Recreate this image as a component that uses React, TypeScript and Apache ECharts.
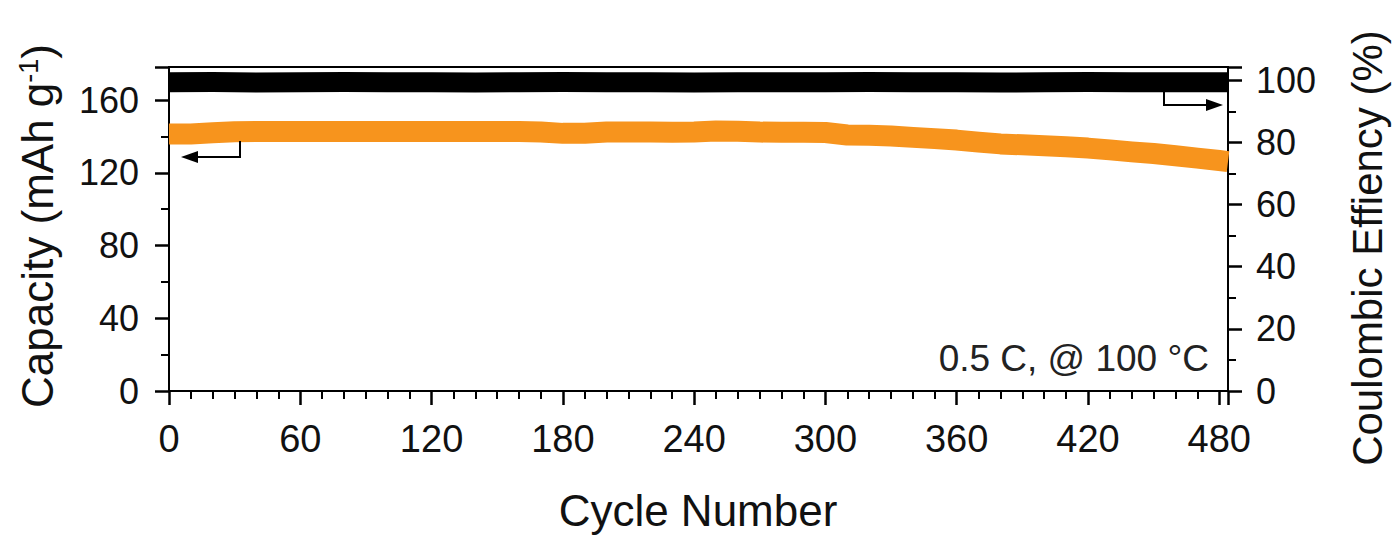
import React, { useEffect, useRef } from "react";
import * as echarts from "echarts";

const capacityCycles = [
  0, 10, 20, 30, 40, 50, 60, 70, 80, 90, 100, 110, 120, 130, 140, 150, 160, 170, 180, 190,
  200, 210, 220, 230, 240, 250, 260, 270, 280, 290, 300, 310, 320, 330, 340, 350, 360, 370,
  380, 390, 400, 410, 420, 430, 440, 450, 460, 470, 480, 484,
];
// Discharge capacity (mAh g-1)
const capacityValues = [
  141.3, 141.4, 142.0, 142.6, 142.7, 142.7, 142.7, 142.7, 142.7, 142.7, 142.7, 142.7, 142.7,
  142.7, 142.7, 142.7, 142.7, 142.4, 141.7, 141.8, 142.5, 142.5, 142.4, 142.3, 142.5, 143.0,
  142.9, 142.4, 142.3, 142.3, 142.2, 140.8, 140.6, 140.3, 139.5, 138.8, 138.0, 136.9, 135.9,
  135.4, 134.9, 134.3, 133.6, 132.6, 131.5, 130.6, 129.4, 128.1, 126.8, 126.2,
];

const ceCycles = [
  0, 20, 40, 60, 80, 100, 120, 140, 160, 180, 200, 220, 240, 260, 280, 300, 320, 340, 360, 380,
  400, 420, 440, 460, 480, 484,
];
// Coulombic efficiency (%)
const ceValues = [
  99.4, 99.5, 99.3, 99.4, 99.5, 99.4, 99.4, 99.3, 99.4, 99.5, 99.4, 99.4, 99.3, 99.4, 99.4,
  99.4, 99.5, 99.4, 99.4, 99.3, 99.4, 99.5, 99.4, 99.4, 99.4, 99.4,
];

const xTitle = "Cycle Number";
const yLeftTitle = "Capacity (mAh g{sup|-1})";
const yRightTitle = "Coulombic Effiency (%)";
const note = "0.5 C, @ 100 °C";

const FONT = "'Liberation Sans', Arial, Helvetica, sans-serif";
const INK = "#111";

export default function App() {
  const ref = useRef<HTMLDivElement>(null);

  useEffect(() => {
    if (!ref.current) return;
    const chart = echarts.init(ref.current, null, { renderer: "svg" });

    const capData = capacityCycles.map((c, i) => [c, capacityValues[i]]);
    const ceData = ceCycles.map((c, i) => [c, ceValues[i]]);

    const axisCommon = {
      axisLine: { show: true, onZero: false, lineStyle: { color: "#000", width: 2 } },
      axisTick: { show: true, inside: false, length: 14, lineStyle: { color: "#000", width: 2.5 } },
      minorTick: { show: true, length: 8, lineStyle: { color: "#000", width: 2 } },
      splitLine: { show: false },
      minorSplitLine: { show: false },
    };

    chart.setOption({
      animation: false,
      backgroundColor: "#fff",
      grid: {
        left: 169,
        right: 172,
        top: 67,
        bottom: 166,
        show: true,
        borderColor: "#000",
        borderWidth: 2,
        backgroundColor: "transparent",
      },
      xAxis: {
        type: "value",
        min: 0,
        max: 484,
        interval: 60,
        ...axisCommon,
        minorTick: { ...axisCommon.minorTick, splitNumber: 6 },
        axisLabel: {
          fontSize: 38,
          fontFamily: FONT,
          color: INK,
          margin: 29,
          showMaxLabel: false,
        },
      },
      yAxis: [
        {
          type: "value",
          position: "left",
          min: 0,
          max: 178.2,
          interval: 40,
          ...axisCommon,
          minorTick: { ...axisCommon.minorTick, splitNumber: 2 },
          axisLabel: {
            fontSize: 36,
            fontFamily: FONT,
            color: INK,
            margin: 30,
            showMaxLabel: false,
          },
        },
        {
          type: "value",
          position: "right",
          min: 0,
          max: 104.3,
          interval: 20,
          ...axisCommon,
          minorTick: { ...axisCommon.minorTick, splitNumber: 2 },
          axisLabel: {
            fontSize: 36,
            fontFamily: FONT,
            color: INK,
            margin: 28,
            showMaxLabel: false,
          },
        },
      ],
      series: [
        {
          name: "Coulombic efficiency",
          type: "line",
          yAxisIndex: 1,
          data: ceData,
          showSymbol: false,
          symbol: "none",
          clip: true,
          lineStyle: { color: "#000", width: 20, cap: "butt", join: "miter" },
          z: 3,
        },
        {
          name: "Capacity",
          type: "line",
          yAxisIndex: 0,
          data: capData,
          showSymbol: false,
          symbol: "none",
          clip: true,
          lineStyle: { color: "#F7941D", width: 21, cap: "butt", join: "round" },
          z: 4,
        },
      ],
      graphic: [
        {
          type: "text",
          x: 37,
          y: 226,
          rotation: Math.PI / 2,
          style: {
            text: yLeftTitle,
            fontSize: 44,
            fontFamily: FONT,
            fill: INK,
            align: "center",
            verticalAlign: "middle",
            rich: {
              sup: { fontSize: 27, fontFamily: FONT, fill: INK, verticalAlign: "top", lineHeight: 26 },
            },
          },
        },
        {
          type: "text",
          x: 1367,
          y: 248,
          rotation: Math.PI / 2,
          style: {
            text: yRightTitle,
            fontSize: 42,
            fontFamily: FONT,
            fill: INK,
            align: "center",
            verticalAlign: "middle",
          },
        },
        {
          type: "text",
          x: 698,
          y: 510,
          style: {
            text: xTitle,
            fontSize: 44,
            fontFamily: FONT,
            fill: INK,
            align: "center",
            verticalAlign: "middle",
          },
        },
        {
          type: "text",
          x: 1209,
          y: 358,
          style: {
            text: note,
            fontSize: 37,
            fontFamily: FONT,
            fill: "#222",
            align: "right",
            verticalAlign: "middle",
          },
        },
        // arrow pointing to the left (capacity) axis
        {
          type: "polyline",
          shape: { points: [[240, 141], [240, 157], [193, 157]] },
          style: { stroke: "#000", lineWidth: 2, fill: null },
          z: 10,
        },
        {
          type: "polygon",
          shape: { points: [[181, 157], [198, 151], [198, 163]] },
          style: { fill: "#000" },
          z: 10,
        },
        // arrow pointing to the right (CE) axis
        {
          type: "polyline",
          shape: { points: [[1164, 92], [1164, 105], [1210, 105]] },
          style: { stroke: "#000", lineWidth: 2, fill: null },
          z: 10,
        },
        {
          type: "polygon",
          shape: { points: [[1223, 105], [1206, 99], [1206, 111]] },
          style: { fill: "#000" },
          z: 10,
        },
      ],
    });

    return () => {
      chart.dispose();
    };
  }, []);

  return (
    <div
      ref={ref}
      style={{ position: "fixed", left: 0, top: 0, width: 1400, height: 557, background: "#fff" }}
    />
  );
}
